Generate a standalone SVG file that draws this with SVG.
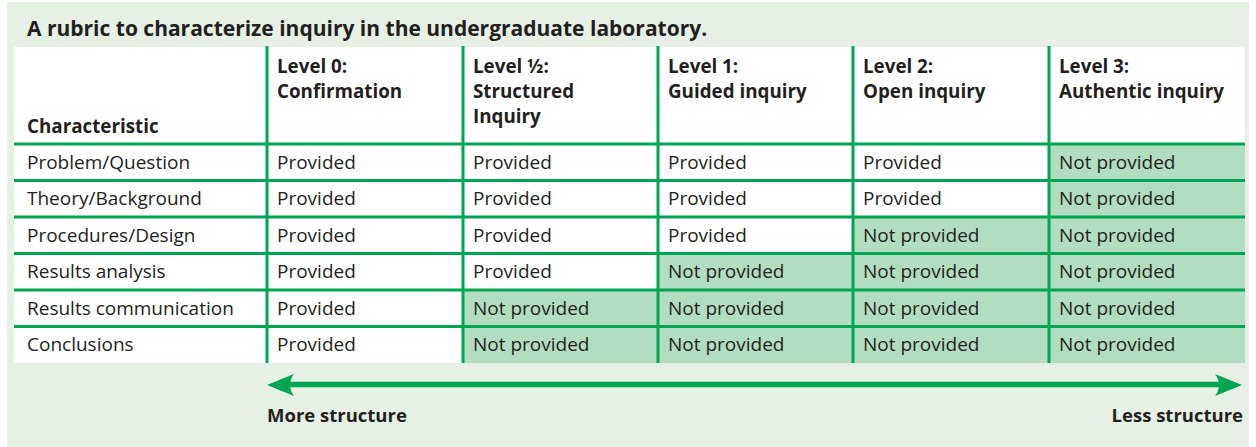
<svg xmlns="http://www.w3.org/2000/svg" width="1256" height="447" viewBox="0 0 1256 447">
<style>
text{font-family:"Open Sans","Liberation Sans",sans-serif;fill:#231F20}
.t{font-size:21px;font-weight:bold}
.h{font-size:18.8px;font-weight:bold}
.c{font-size:19px}
.b{font-size:18.5px;font-weight:bold}
.g{stroke:#00A651;stroke-width:3;fill:none}
.np{fill:#B3DDC1}
</style>
<defs>
<path id="ah" d="M0,0 L-27,-11 Q-19,0 -27,11 Z" fill="#00A651"/>
</defs>
<rect x="7" y="2" width="1242" height="445" fill="#E6F0E5"/>
<text class="t" x="27" y="36">A rubric to characterize inquiry in the undergraduate laboratory.</text>
<rect x="14" y="47" width="1231" height="316" fill="#FFFFFF"/>
<g id="shading">
<rect class="np" x="1049" y="144" width="196" height="219"/>
<rect class="np" x="853" y="217" width="196" height="146"/>
<rect class="np" x="658" y="253.5" width="195" height="109.5"/>
<rect class="np" x="463" y="290" width="195" height="73"/>
</g>
<g id="grid">
<path class="g" d="M14,144H1245M14,180.5H1245M14,217H1245M14,253.5H1245M14,290H1245M14,326.5H1245"/>
<path class="g" d="M267,46V363M463,46V363M658,46V363M853,46V363M1049,46V363"/>
</g>
<g id="header">
<text class="h" x="27" y="133">Characteristic</text>
<text class="h" x="277" y="73">Level 0:</text>
<text class="h" x="277" y="98">Confirmation</text>
<text class="h" x="473" y="73">Level ½:</text>
<text class="h" x="473" y="98">Structured</text>
<text class="h" x="473" y="123">Inquiry</text>
<text class="h" x="668" y="73">Level 1:</text>
<text class="h" x="668" y="98">Guided inquiry</text>
<text class="h" x="863" y="73">Level 2:</text>
<text class="h" x="863" y="98">Open inquiry</text>
<text class="h" x="1059" y="73">Level 3:</text>
<text class="h" x="1059" y="98">Authentic inquiry</text>
</g>
<g id="row1">
<text class="c" x="27" y="168.5">Problem/Question</text>
<text class="c" x="277" y="168.5">Provided</text>
<text class="c" x="473" y="168.5">Provided</text>
<text class="c" x="668" y="168.5">Provided</text>
<text class="c" x="863" y="168.5">Provided</text>
<text class="c" x="1059" y="168.5">Not provided</text>
</g>
<g id="row2">
<text class="c" x="27" y="205">Theory/Background</text>
<text class="c" x="277" y="205">Provided</text>
<text class="c" x="473" y="205">Provided</text>
<text class="c" x="668" y="205">Provided</text>
<text class="c" x="863" y="205">Provided</text>
<text class="c" x="1059" y="205">Not provided</text>
</g>
<g id="row3">
<text class="c" x="27" y="241.5">Procedures/Design</text>
<text class="c" x="277" y="241.5">Provided</text>
<text class="c" x="473" y="241.5">Provided</text>
<text class="c" x="668" y="241.5">Provided</text>
<text class="c" x="863" y="241.5">Not provided</text>
<text class="c" x="1059" y="241.5">Not provided</text>
</g>
<g id="row4">
<text class="c" x="27" y="278">Results analysis</text>
<text class="c" x="277" y="278">Provided</text>
<text class="c" x="473" y="278">Provided</text>
<text class="c" x="668" y="278">Not provided</text>
<text class="c" x="863" y="278">Not provided</text>
<text class="c" x="1059" y="278">Not provided</text>
</g>
<g id="row5">
<text class="c" x="27" y="314.5">Results communication</text>
<text class="c" x="277" y="314.5">Provided</text>
<text class="c" x="473" y="314.5">Not provided</text>
<text class="c" x="668" y="314.5">Not provided</text>
<text class="c" x="863" y="314.5">Not provided</text>
<text class="c" x="1059" y="314.5">Not provided</text>
</g>
<g id="row6">
<text class="c" x="27" y="351">Conclusions</text>
<text class="c" x="277" y="351">Provided</text>
<text class="c" x="473" y="351">Not provided</text>
<text class="c" x="668" y="351">Not provided</text>
<text class="c" x="863" y="351">Not provided</text>
<text class="c" x="1059" y="351">Not provided</text>
</g>
<g id="connectors">
<path d="M285,384.5H1224" stroke="#00A651" stroke-width="5.5" fill="none"/>
<use href="#ah" transform="translate(1242,385)"/>
<use href="#ah" transform="translate(267,385) rotate(180)"/>
</g>
<g id="labels">
<text class="b" x="267" y="422">More structure</text>
<text class="b" x="1243" y="422" text-anchor="end">Less structure</text>
</g>
</svg>
